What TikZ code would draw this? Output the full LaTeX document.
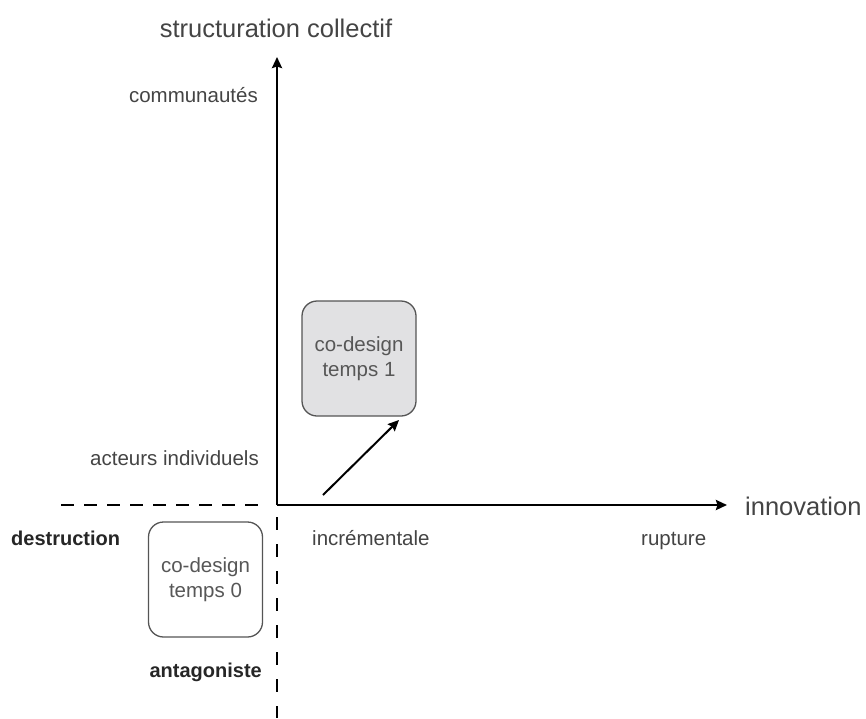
\documentclass[tikz,border=0pt]{standalone}
\usepackage{fontspec}
\setmainfont{Liberation Sans}
\usetikzlibrary{arrows.meta}
\definecolor{txt}{HTML}{444444}
\definecolor{boxline}{HTML}{555555}
\definecolor{boxfill}{HTML}{E1E1E3}
\tikzset{
  lbl/.style={text=txt, inner sep=0pt, font=\fontsize{20.5}{25}\selectfont},
  bigl/.style={text=txt, inner sep=0pt, font=\fontsize{25.5}{30}\selectfont},
  boldl/.style={text=black!85, inner sep=0pt, font=\fontsize{20}{25}\selectfont\bfseries},
  cbox/.style={draw=boxline, line width=1.3pt, rounded corners=15pt, minimum width=114pt, minimum height=115pt, inner sep=0pt, align=center, text=txt!90, font=\fontsize{20.5}{25}\selectfont},
  axis/.style={line width=2.5pt, -{Stealth[length=11pt,width=10pt,inset=1.5pt]}},
  dashaxis/.style={line width=2.5pt, dash pattern=on 13pt off 10pt},
  dashaxisv/.style={line width=2.5pt, dash pattern=on 13pt off 14pt},
  move/.style={line width=2pt, -{Stealth[length=11pt,width=10pt,inset=1.5pt]}}
}
\begin{document}
\begin{tikzpicture}[x=1pt,y=-1pt]
\useasboundingbox (0,0) rectangle (866,718);
\coordinate (O) at (277,505);
\coordinate (ytip) at (277,57);
\coordinate (xtip) at (727,505);
\coordinate (dh0) at (61,505);
\coordinate (dh1) at (268,505);
\coordinate (dv0) at (277,517);
\coordinate (dv1) at (277,718);
\draw[axis] (O) -- (ytip);
\draw[axis] (O) -- (xtip);
\draw[dashaxis] (dh0) -- (dh1);
\draw[dashaxisv] (dv0) -- (dv1);

\node[bigl, anchor=base] (title) at (276,37) {structuration collectif};
\node[bigl, anchor=base west] (innov) at (745,515) {innovation};
\node[lbl, anchor=base east] (comm) at (258,102) {communautés};
\node[lbl, anchor=base east] (acteurs) at (259,465) {acteurs individuels};
\node[lbl, anchor=base west] (incr) at (312,545) {incrémentale};
\node[lbl, anchor=base west] (rupt) at (641,545) {rupture};
\node[boldl, anchor=base west] (destr) at (11,545) {destruction};
\node[boldl, anchor=base east] (antag) at (262,677) {antagoniste};

\node[cbox, fill=boxfill] (b1) at (359,358.5) {co-design\\temps 1};
\node[cbox, fill=white] (b0) at (205.5,579.5) {co-design\\temps 0};

\coordinate (m0) at (323,495);
\coordinate (m1) at (399,420);
\draw[move] (m0) -- (m1);
\end{tikzpicture}
\end{document}
